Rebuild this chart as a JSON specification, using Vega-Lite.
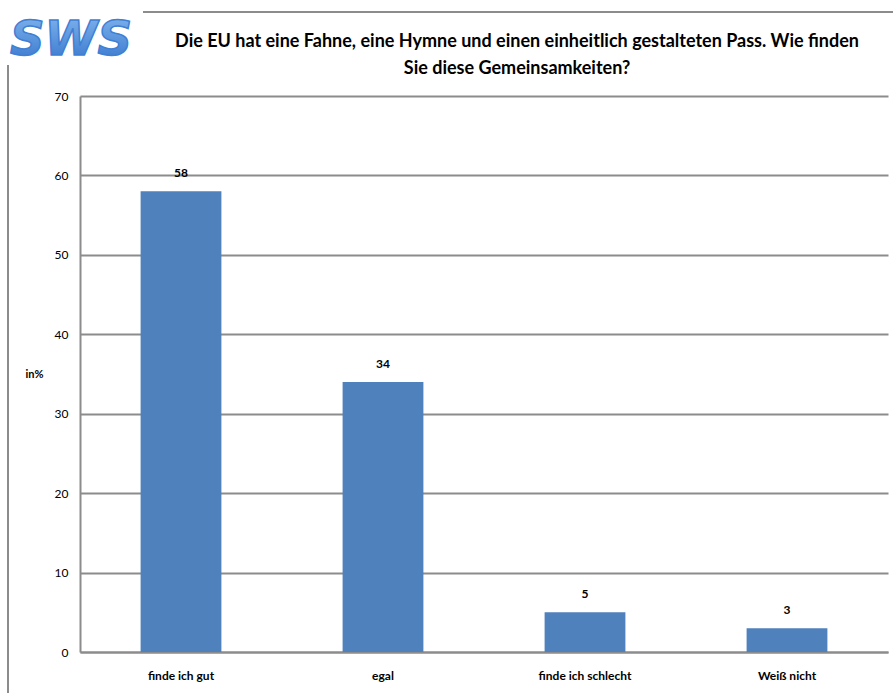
{
  "$schema": "https://vega.github.io/schema/vega-lite/v6.json",
  "autosize": {"type": "none"},
  "width": 808,
  "height": 556,
  "padding": {"left": 80, "top": 96, "right": 5, "bottom": 41},
  "background": "white",
  "config": {
    "view": {"stroke": null},
    "font": "Lato"
  },
  "title": {
    "text": ["Die EU hat eine Fahne, eine Hymne und einen einheitlich gestalteten Pass. Wie finden", "Sie diese Gemeinsamkeiten?"],
    "anchor": "middle",
    "frame": "group",
    "dx": 33,
    "offset": -67,
    "font": "Lato",
    "fontSize": 18,
    "fontWeight": "bold",
    "color": "#000000",
    "lineHeight": 27
  },
  "layer": [
    {
      "data": {"values": [
        {"antwort": "finde ich gut", "prozent": 58},
        {"antwort": "egal", "prozent": 34},
        {"antwort": "finde ich schlecht", "prozent": 5},
        {"antwort": "Weiß nicht", "prozent": 3}
      ]},
      "encoding": {
        "x": {
          "field": "antwort",
          "type": "nominal",
          "sort": null,
          "scale": {"paddingInner": 0.6, "paddingOuter": 0.3},
          "axis": {
            "title": null,
            "labelAngle": 0,
            "labelFont": "Lato",
            "labelFontSize": 12,
            "labelFontWeight": "bold",
            "labelColor": "#000000",
            "labelPadding": 18,
            "ticks": false,
            "domainColor": "#8c8c8c",
            "domainWidth": 2
          }
        },
        "y": {
          "field": "prozent",
          "type": "quantitative",
          "scale": {"domain": [0, 70], "nice": false},
          "axis": {
            "title": "in%",
            "titleAngle": 0,
            "titleFont": "Lato",
            "titleFontSize": 11,
            "titleFontWeight": "bold",
            "titleColor": "#000000",
            "titleX": -46,
            "titleY": 283,
            "values": [0, 10, 20, 30, 40, 50, 60, 70],
            "labelFont": "Lato",
            "labelFontSize": 12,
            "labelColor": "#000000",
            "labelPadding": 12,
            "ticks": false,
            "grid": true,
            "gridColor": "#8c8c8c",
            "gridWidth": 2,
            "domainColor": "#8c8c8c",
            "domainWidth": 2
          }
        }
      },
      "layer": [
        {"mark": {"type": "bar", "color": "#4f81bd"}},
        {
          "mark": {"type": "text", "baseline": "bottom", "dy": -11, "font": "Lato", "fontSize": 12, "fontWeight": "bold", "color": "#000000"},
          "encoding": {"text": {"field": "prozent", "type": "quantitative"}}
        }
      ]
    },
    {
      "data": {"values": [{"logo": "SWS"}]},
      "mark": {
        "type": "text",
        "align": "left",
        "baseline": "alphabetic",
        "x": -70,
        "y": -41,
        "font": "DejaVu Sans",
        "fontSize": 48,
        "fontWeight": "bold",
        "fontStyle": "italic",
        "stroke": "#3f7fd4",
        "strokeWidth": 1.5,
        "fill": {
          "gradient": "linear",
          "x1": 0, "y1": 0, "x2": 0, "y2": 1,
          "stops": [
            {"offset": 0, "color": "#86b8ee"},
            {"offset": 1, "color": "#3374cc"}
          ]
        }
      },
      "encoding": {"text": {"field": "logo"}}
    },
    {
      "data": {"values": [{"rahmen": "oben"}]},
      "mark": {"type": "rule", "color": "#8c8c8c", "strokeWidth": 2},
      "encoding": {"x": {"value": 63}, "x2": {"value": 813}, "y": {"value": -84}}
    },
    {
      "data": {"values": [{"rahmen": "links"}]},
      "mark": {"type": "rule", "color": "#8c8c8c", "strokeWidth": 2},
      "encoding": {"x": {"value": -72}, "y": {"value": -31}, "y2": {"value": 597}}
    }
  ]
}
